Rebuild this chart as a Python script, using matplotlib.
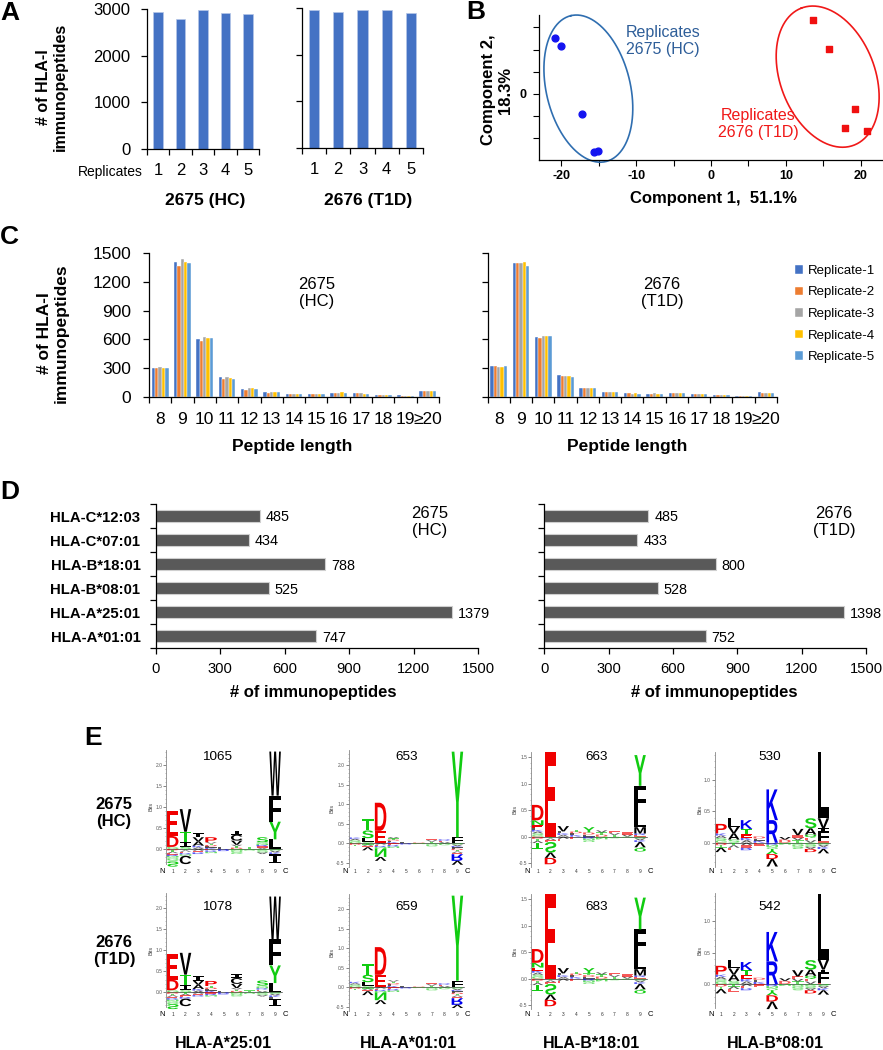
import numpy as np
import matplotlib
matplotlib.use('Agg')
import matplotlib.pyplot as plt
import matplotlib.transforms as mtransforms
from matplotlib.textpath import TextPath
from matplotlib.patches import PathPatch
from matplotlib.font_manager import FontProperties

plt.rcParams['font.family'] = ['Liberation Sans', 'DejaVu Sans']

# ---------------- A: total immunopeptides per replicate
replicates = ['1', '2', '3', '4', '5']
total_hc = [2940, 2800, 2990, 2920, 2900]
total_t1d = [2960, 2920, 2960, 2960, 2890]

# ---------------- B: PCA
pca_hc_x = [-20.8, -20.0, -17.2, -15.7, -15.05]
pca_hc_y = [12.7, 10.8, -4.6, -13.2, -12.8]
pca_t1d_x = [13.6, 15.8, 19.2, 17.9, 20.9]
pca_t1d_y = [16.7, 10.1, -3.4, -7.7, -8.3]
# ellipse: centre (data), semi axes (px), angle (deg)
ellipse_hc = (-16.4, 1.2, 75, 42, 103.5)
ellipse_t1d = (15.6, 3.9, 73.4, 47.4, 111)

# ---------------- C: length distribution
lengths = ['8', '9', '10', '11', '12', '13', '14', '15', '16', '17', '18', '19', '≥20']
rep_names = ['Replicate-1', 'Replicate-2', 'Replicate-3', 'Replicate-4', 'Replicate-5']
len_hc = [
    [305, 1410, 605, 205, 80, 45, 33, 25, 38, 35, 20, 14, 60],
    [297, 1365, 585, 190, 73, 38, 28, 25, 38, 35, 20, 12, 55],
    [312, 1445, 625, 208, 87, 52, 33, 31, 38, 35, 20, 12, 60],
    [305, 1405, 610, 198, 87, 45, 33, 28, 45, 33, 18, 12, 55],
    [305, 1400, 615, 190, 80, 45, 28, 28, 38, 33, 18, 12, 55],
]
len_t1d = [
    [321, 1399, 621, 223, 94, 52, 38, 31, 38, 31, 17, 10, 45],
    [321, 1399, 614, 216, 87, 52, 35, 31, 38, 24, 17, 10, 38],
    [310, 1399, 635, 216, 94, 52, 31, 35, 38, 31, 17, 10, 38],
    [310, 1409, 635, 216, 94, 52, 35, 31, 38, 31, 17, 10, 38],
    [317, 1371, 635, 209, 94, 52, 31, 31, 38, 24, 17, 10, 38],
]
rep_colors = ['#4472C4', '#ED7D31', '#A5A5A5', '#FFC000', '#5B9BD5']

# ---------------- D: peptides per allele
alleles = ['HLA-C*12:03', 'HLA-C*07:01', 'HLA-B*18:01', 'HLA-B*08:01', 'HLA-A*25:01', 'HLA-A*01:01']
alleles_hc = [485, 434, 788, 525, 1379, 747]
alleles_t1d = [485, 433, 800, 528, 1398, 752]

# ---------------- E: motifs (letters above / below zero, background amount)
logo_alleles = ['HLA-A*25:01', 'HLA-A*01:01', 'HLA-B*18:01', 'HLA-B*08:01']
logo_n_hc = [1065, 653, 663, 530]
logo_n_t1d = [1078, 659, 683, 542]

a2501_hc_up = [[('D', .26), ('E', .59)], [('I', .12), ('T', .24), ('V', .54)], [('A', .1), ('V', .1), ('I', .1)],
               [('P', .12)], [], [('V', .1), ('C', .14), ('I', .1)], [], [('S', .12)],
               [('L', .23), ('Y', .42), ('F', .62), ('W', 1.05)]]
a2501_hc_dn = [[('S', .12)], [('C', .2)], [], [], [], [], [], [], [('I', .22)]]
a2501_hc_bg = [(.05, .3), (.05, .16), (.08, .12), (.16, .1), (.04, .05), (.1, .12), (.05, .04), (.16, .12), (0, .12)]

a2501_t1d_up = [[('D', .25), ('E', .6)], [('I', .12), ('T', .25), ('V', .52)], [('A', .1), ('V', .1), ('I', .1)],
                [('P', .12)], [], [('V', .1), ('C', .14), ('I', .1)], [], [('S', .12)],
                [('L', .22), ('Y', .42), ('F', .62), ('W', 1.02)]]
a2501_t1d_dn = [[('S', .12)], [('C', .18)], [], [], [], [], [], [], [('I', .18)]]
a2501_t1d_bg = [(.05, .28), (.05, .15), (.08, .1), (.15, .1), (.04, .05), (.1, .1), (.05, .04), (.16, .1), (0, .15)]

a0101_hc_up = [[], [('L', .1), ('S', .2), ('T', .3)], [('E', .3), ('D', .72)], [], [], [], [], [],
               [('F', .15), ('Y', 2.2)]]
a0101_hc_dn = [[], [('V', .08)], [('N', .22), ('V', .1)], [], [], [], [], [], [('R', .17), ('V', .1)]]
a0101_hc_bg = [(.15, .08), (.03, .1), (.02, .13), (.16, .12), (.03, .03), (.02, .02), (.12, .08), (.1, .05), (0, .28)]

a0101_t1d_up = [[], [('L', .1), ('S', .19), ('T', .28)], [('E', .3), ('D', .71)], [], [], [], [], [],
                [('F', .17), ('Y', 2.18)]]
a0101_t1d_dn = [[], [('V', .1)], [('N', .2), ('V', .1)], [], [], [], [], [], [('R', .17), ('V', .08)]]
a0101_t1d_bg = [(.14, .08), (.03, .1), (.02, .13), (.18, .12), (.03, .03), (.02, .02), (.12, .08), (.1, .05), (0, .28)]

b1801_hc_up = [[('E', .06), ('N', .09), ('D', .29)], [('E', 1.6)], [('V', .1)], [], [('Y', .1)], [], [], [],
               [('M', .12), ('L', .27), ('F', .51), ('Y', .58)]]
b1801_hc_dn = [[('T', .12)], [('S', .2), ('V', .1), ('D', .12)], [], [], [], [], [], [], [('V', .1), ('Q', .08)]]
b1801_hc_bg = [(.16, .12), (0, .1), (.1, .08), (.13, .05), (.08, .1), (.12, .05), (.1, .03), (.08, .02), (.06, .1)]

b1801_t1d_up = [[('E', .06), ('N', .09), ('D', .26)], [('E', 1.6)], [('V', .1)], [], [('Y', .1)], [], [], [],
                [('M', .12), ('L', .25), ('F', .5), ('Y', .6)]]
b1801_t1d_dn = [[('T', .12)], [('S', .2), ('V', .1), ('D', .12)], [], [], [], [], [], [], [('V', .1), ('Q', .08)]]
b1801_t1d_bg = [(.15, .12), (0, .1), (.1, .08), (.13, .05), (.1, .1), (.12, .05), (.1, .03), (.08, .02), (.06, .1)]

b0801_hc_up = [[('P', .15)], [('A', .1), ('V', .1), ('L', .14)], [('E', .06), ('T', .08), ('K', .14)], [],
               [('R', .36), ('K', .49)], [('V', .04)], [('V', .1)], [('Q', .05), ('A', .1), ('S', .16)],
               [('F', .16), ('I', .05), ('V', .16), ('L', 1.06)]]
b0801_hc_dn = [[('V', .07)], [], [], [], [('Y', .08), ('D', .08), ('V', .12)], [], [], [('D', .05)], [('V', .07)]]
b0801_hc_bg = [(.15, .08), (.05, .12), (.08, .12), (.1, .05), (0, .1), (.05, .03), (.12, .1), (.08, .1), (.02, .1)]

b0801_t1d_up = [[('P', .14)], [('A', .1), ('V', .1), ('L', .14)], [('E', .06), ('T', .08), ('K', .13)], [],
                [('R', .36), ('K', .47)], [('V', .04)], [('V', .1)], [('Q', .05), ('A', .1), ('S', .15)],
                [('F', .16), ('I', .05), ('V', .16), ('L', 1.05)]]
b0801_t1d_dn = [[('V', .07)], [], [], [], [('Y', .08), ('D', .1), ('V', .12)], [], [], [('D', .05)], [('V', .07)]]
b0801_t1d_bg = [(.15, .08), (.05, .12), (.08, .1), (.1, .05), (0, .1), (.05, .03), (.12, .1), (.08, .1), (.02, .1)]

logos_hc = [(a2501_hc_up, a2501_hc_dn, a2501_hc_bg), (a0101_hc_up, a0101_hc_dn, a0101_hc_bg),
            (b1801_hc_up, b1801_hc_dn, b1801_hc_bg), (b0801_hc_up, b0801_hc_dn, b0801_hc_bg)]
logos_t1d = [(a2501_t1d_up, a2501_t1d_dn, a2501_t1d_bg), (a0101_t1d_up, a0101_t1d_dn, a0101_t1d_bg),
             (b1801_t1d_up, b1801_t1d_dn, b1801_t1d_bg), (b0801_t1d_up, b0801_t1d_dn, b0801_t1d_bg)]

# ---------------- figure helpers
W, H = 883, 1050
fig = plt.figure(figsize=(W / 100, H / 100), dpi=100)


def add_ax(l, t, r, b):
    return fig.add_axes([l / W, 1 - b / H, (r - l) / W, (b - t) / H])


def ftext(x, y, s, **kw):
    kw.setdefault('ha', 'center')
    kw.setdefault('va', 'center')
    return fig.text(x / W, 1 - y / H, s, **kw)


def clean(ax):
    for s in ('top', 'right'):
        ax.spines[s].set_visible(False)
    for s in ('left', 'bottom'):
        ax.spines[s].set_linewidth(0.9)


# panel letters
for lab, x, y in (('A', 10, 13), ('B', 476, 12), ('C', 9, 237), ('D', 10, 492), ('E', 93, 738)):
    ftext(x, y, lab, fontsize=19, fontweight='bold')

# ================= A
axA1 = add_ax(147, 9.3, 259, 149)
axA2 = add_ax(302, 8, 423, 148)
for ax, vals in ((axA1, total_hc), (axA2, total_t1d)):
    ax.bar(np.arange(len(vals)), vals, width=0.42, color='#4472C4', edgecolor='#b5c6e8', lw=0.5)
    ax.set_xlim(-0.5, len(vals) - 0.5)
    ax.set_ylim(0, 3000)
    ax.set_yticks([0, 1000, 2000, 3000])
    ax.set_xticks(np.arange(len(vals)))
    ax.set_xticklabels(replicates)
    ax.set_xticks(np.arange(-0.5, len(vals)), minor=True)
    ax.tick_params(axis='x', which='major', length=0, pad=10, labelsize=12)
    ax.tick_params(axis='x', which='minor', length=4, width=0.9)
    ax.tick_params(axis='y', length=4, width=0.9, labelsize=12, pad=8)
    clean(ax)
axA2.set_yticklabels([])
ftext(143, 172, 'Replicates', fontsize=10, ha='right')
ftext(205, 200, '2675 (HC)', fontsize=12.5, fontweight='bold')
ftext(368, 200, '2676 (T1D)', fontsize=12.5, fontweight='bold')
ftext(52, 87, '# of HLA-I\nimmunopeptides', fontsize=11.5, fontweight='bold', rotation=90,
      linespacing=1.15)

# ================= B
axB = add_ax(539, 15, 883, 160)
axB.set_xlim(-23.0, 23.0)
axB.set_ylim(-14.9, 17.8)
axB.scatter(pca_hc_x, pca_hc_y, s=24, color='#1414F0', zorder=3)
axB.scatter(pca_t1d_x, pca_t1d_y, s=24, marker='s', color='#F01010', zorder=3)
bb = axB.get_position()
sx = bb.width * W / 46.0
sy = bb.height * H / (17.8 + 14.9)
t = np.linspace(0, 2 * np.pi, 300)
for (cx, cy, a, b, ang), col in ((ellipse_hc, '#2F6EB0'), (ellipse_t1d, '#F01818')):
    th = np.radians(ang)
    dx = a * np.cos(t) * np.cos(th) - b * np.sin(t) * np.sin(th)
    dy = a * np.cos(t) * np.sin(th) + b * np.sin(t) * np.cos(th)
    axB.plot(cx + dx / sx, cy + dy / sy, color=col, lw=1.2, clip_on=False)
axB.set_xticks([-20, -10, 0, 10, 20])
axB.set_xticklabels(['-20', '-10', '0', '10', '20'], fontweight='bold')
axB.set_xticks([-15, -5, 5, 15], minor=True)
axB.set_yticks([-10, -5, 0, 5, 10, 15])
axB.set_yticklabels(['', '', '0', '', '', ''], fontweight='bold')
axB.tick_params(which='both', length=4, width=0.8, labelsize=9)
axB.tick_params(axis='x', pad=3)
axB.tick_params(axis='y', pad=5)
clean(axB)
ftext(663, 41, 'Replicates\n2675 (HC)', fontsize=11.5, color='#2E5E99', linespacing=1.2)
ftext(758, 124, 'Replicates\n2676 (T1D)', fontsize=11.5, color='#F01818', linespacing=1.2)
ftext(713, 198, 'Component 1,  51.1%', fontsize=12, fontweight='bold')
ftext(497, 90, 'Component 2,\n18.3%', fontsize=12, fontweight='bold', rotation=90, linespacing=1.1)

# ================= C
axC1 = add_ax(149, 253.3, 439, 396.7)
axC2 = add_ax(487.7, 253.3, 777, 396.7)
xc = np.arange(len(lengths))
bw = 0.15
for ax, data in ((axC1, len_hc), (axC2, len_t1d)):
    for k, (vals, col, name) in enumerate(zip(data, rep_colors, rep_names)):
        ax.bar(xc + (k - 2) * bw, vals, width=bw, color=col, edgecolor='white', lw=0.3, label=name)
    ax.set_xlim(-0.5, len(lengths) - 0.5)
    ax.set_ylim(0, 1500)
    ax.set_yticks(np.arange(0, 1501, 300))
    ax.set_xticks(xc)
    ax.set_xticklabels(lengths)
    ax.set_xticks(np.arange(-0.5, len(lengths)), minor=True)
    ax.tick_params(axis='x', which='major', length=0, pad=11, labelsize=12.5)
    ax.tick_params(axis='x', which='minor', length=4, width=0.9)
    ax.tick_params(axis='y', length=4, width=0.9, labelsize=12.5, pad=9)
    clean(ax)
axC2.set_yticklabels([])
ftext(53, 333, '# of HLA-I\nimmunopeptides', fontsize=12.5, fontweight='bold', rotation=90, linespacing=1.1)
ftext(292, 447, 'Peptide length', fontsize=12.5, fontweight='bold')
ftext(627, 447, 'Peptide length', fontsize=12.5, fontweight='bold')
ftext(317, 293, '2675\n(HC)', fontsize=12, linespacing=1.15)
ftext(662, 293, '2676\n(T1D)', fontsize=12, linespacing=1.15)
h, l = axC2.get_legend_handles_labels()
fig.legend(h, l, loc='upper left', bbox_to_anchor=(795 / W, 1 - 265 / H), frameon=False, fontsize=9.5,
           handlelength=0.6, handleheight=0.6, handletextpad=0.35, labelspacing=0.72, borderpad=0,
           borderaxespad=0)

# ================= D
axD1 = add_ax(155.7, 504, 478, 648.3)
axD2 = add_ax(544.3, 504, 866, 648.3)
yd = np.arange(len(alleles))
for ax, vals in ((axD1, alleles_hc), (axD2, alleles_t1d)):
    ax.barh(yd, vals, height=0.5, color='#595959', edgecolor='#cfcfcf', lw=0.8)
    for yi, v in zip(yd, vals):
        ax.annotate(str(v), (v, yi), xytext=(4.3, -1), textcoords='offset points', va='center',
                    fontsize=10.4)
    ax.set_ylim(len(alleles) - 0.5, -0.5)
    ax.set_xlim(0, 1500)
    ax.set_xticks(np.arange(0, 1501, 300))
    ax.set_yticks(yd)
    ax.set_yticklabels(alleles, fontweight='bold')
    ax.set_yticks(np.arange(-0.5, len(alleles)), minor=True)
    ax.tick_params(axis='y', which='major', length=0, pad=11, labelsize=10.7)
    ax.tick_params(axis='y', which='minor', length=4, width=0.9)
    ax.tick_params(axis='x', length=4, width=0.9, labelsize=10.6, pad=6)
    clean(ax)
axD2.set_yticklabels([])
ftext(313, 693, '# of immunopeptides', fontsize=12, fontweight='bold')
ftext(714, 693, '# of immunopeptides', fontsize=12, fontweight='bold')
ftext(430, 522, '2675\n(HC)', fontsize=12, linespacing=1.15)
ftext(834, 522, '2676\n(T1D)', fontsize=12, linespacing=1.15)

# ================= E
LOGO_FP = FontProperties(family='Liberation Sans', weight='bold')
SERIF_I_FP = FontProperties(family='DejaVu Sans Mono', weight='bold')  # "I" with bars, like the logo
AA_COL = {'D': '#F00000', 'E': '#F00000', 'P': '#F00000', 'K': '#0000F0', 'R': '#0000F0', 'H': '#0000F0',
          'S': '#11CC11', 'T': '#11CC11', 'Y': '#11CC11', 'N': '#11CC11', 'Q': '#11CC11', 'G': '#11CC11'}
BG_SEQ = 'GSAKLDTVERNQ'
_paths = {}


def letter(ax, ch, x, y, h, flip=False, alpha=1.0):
    if h <= 0:
        return
    if ch not in _paths:
        _paths[ch] = TextPath((0, 0), ch, size=1, prop=SERIF_I_FP if ch == 'I' else LOGO_FP)
    tp = _paths[ch]
    ext = tp.get_extents()
    w = 0.9
    tr = mtransforms.Affine2D().translate(-ext.x0, -ext.y0)
    if flip:
        tr = tr.scale(w / ext.width, -h / ext.height).translate(x - w / 2, y + h)
    else:
        tr = tr.scale(w / ext.width, h / ext.height).translate(x - w / 2, y)
    ax.add_patch(PathPatch(tr.transform_path(tp), facecolor=AA_COL.get(ch, 'black'), edgecolor='none',
                           alpha=alpha, clip_on=False))


def draw_logo(ax, up, dn, bg):
    for i in range(9):
        x = i + 1
        b_up, b_dn = bg[i]
        y = 0.0
        n = int(round(b_up / 0.035)) if b_up > 0 else 0
        for j in range(n):
            letter(ax, BG_SEQ[(i + j) % len(BG_SEQ)], x, y, b_up / max(n, 1), alpha=0.65)
            y += b_up / n
        for ch, hh in up[i]:
            letter(ax, ch, x, y, hh)
            y += hh
        y = 0.0
        n = int(round(b_dn / 0.035)) if b_dn > 0 else 0
        for j in range(n):
            y -= b_dn / n
            letter(ax, BG_SEQ[(i + j + 5) % len(BG_SEQ)], x, y, b_dn / n, flip=True, alpha=0.65)
        for ch, hh in dn[i]:
            y -= hh
            letter(ax, ch, x, y, hh, flip=True)
    ax.plot([0.55, 9.5], [0, 0], color='black', lw=0.4, zorder=0)


logo_left = [166.3, 348.6, 531.3, 714.6]
logo_ppb = [42, 39, 53, 62.7]
logo_zero = [[849, 843.3, 836.7, 842.7], [992.3, 987.3, 978.7, 984]]
logo_ylim = [(-0.35, 2.36), (-0.6, 2.38), (-0.57, 1.6), (-0.38, 1.45)]
logo_yticks = [[0, 0.5, 1, 1.5, 2], [-0.5, 0, 0.5, 1, 1.5, 2], [-0.5, 0, 0.5, 1, 1.5], [0, 0.5, 1]]
logo_num_x = [216.7, 407, 596.7, 770]
row_pos_y = [871.7, 1015]
row_num_y = [756.7, 906.5]
pos_px = 12.8

for r, (logos, nums) in enumerate(((logos_hc, logo_n_hc), (logos_t1d, logo_n_t1d))):
    for c in range(4):
        y0 = logo_zero[r][c]
        lo, hi = logo_ylim[c]
        ax = add_ax(logo_left[c], y0 - hi * logo_ppb[c], logo_left[c] + 9.5 * pos_px, y0 - lo * logo_ppb[c])
        ax.set_xlim(0.5, 10.0)
        ax.set_ylim(lo, hi)
        ax.patch.set_alpha(0)
        for s in ('top', 'right', 'bottom'):
            ax.spines[s].set_visible(False)
        ax.spines['left'].set_color('#888888')
        ax.spines['left'].set_linewidth(0.6)
        ax.set_xticks([])
        ax.set_yticks(logo_yticks[c])
        ax.set_yticklabels([f'{v:.1f}' for v in logo_yticks[c]])
        ax.set_yticks(np.arange(np.ceil(lo * 10) / 10, hi, 0.1), minor=True)
        ax.tick_params(axis='y', which='major', length=2, width=0.5, labelsize=3.5, pad=0.8,
                       colors='#555555')
        ax.tick_params(axis='y', which='minor', length=1, width=0.4, colors='#888888')
        ax.set_ylabel('Bits', fontsize=4, labelpad=1.2, color='#444444')
        up, dn, bg = logos[c]
        draw_logo(ax, up, dn, bg)
        tb = mtransforms.blended_transform_factory(ax.transData, fig.transFigure)
        for j in range(1, 10):
            ax.text(j, 1 - row_pos_y[r] / H, str(j), transform=tb, fontsize=3.5, ha='center', va='center',
                    color='#333333')
        ax.text(0.19, 1 - row_pos_y[r] / H, 'N', transform=tb, fontsize=5.5, ha='center', va='center')
        ax.text(9.8, 1 - row_pos_y[r] / H, 'C', transform=tb, fontsize=5.5, ha='center', va='center')
        ftext(logo_num_x[c], row_num_y[r], str(nums[c]), fontsize=9.7)

ftext(114, 813, '2675\n(HC)', fontsize=12, fontweight='bold', linespacing=1.15)
ftext(114, 951, '2676\n(T1D)', fontsize=12, fontweight='bold', linespacing=1.15)
for c, name in enumerate(logo_alleles):
    ftext([223, 408, 591.7, 775][c], 1044, name, fontsize=11.5, fontweight='bold')

fig.savefig('out.png', dpi=100)
